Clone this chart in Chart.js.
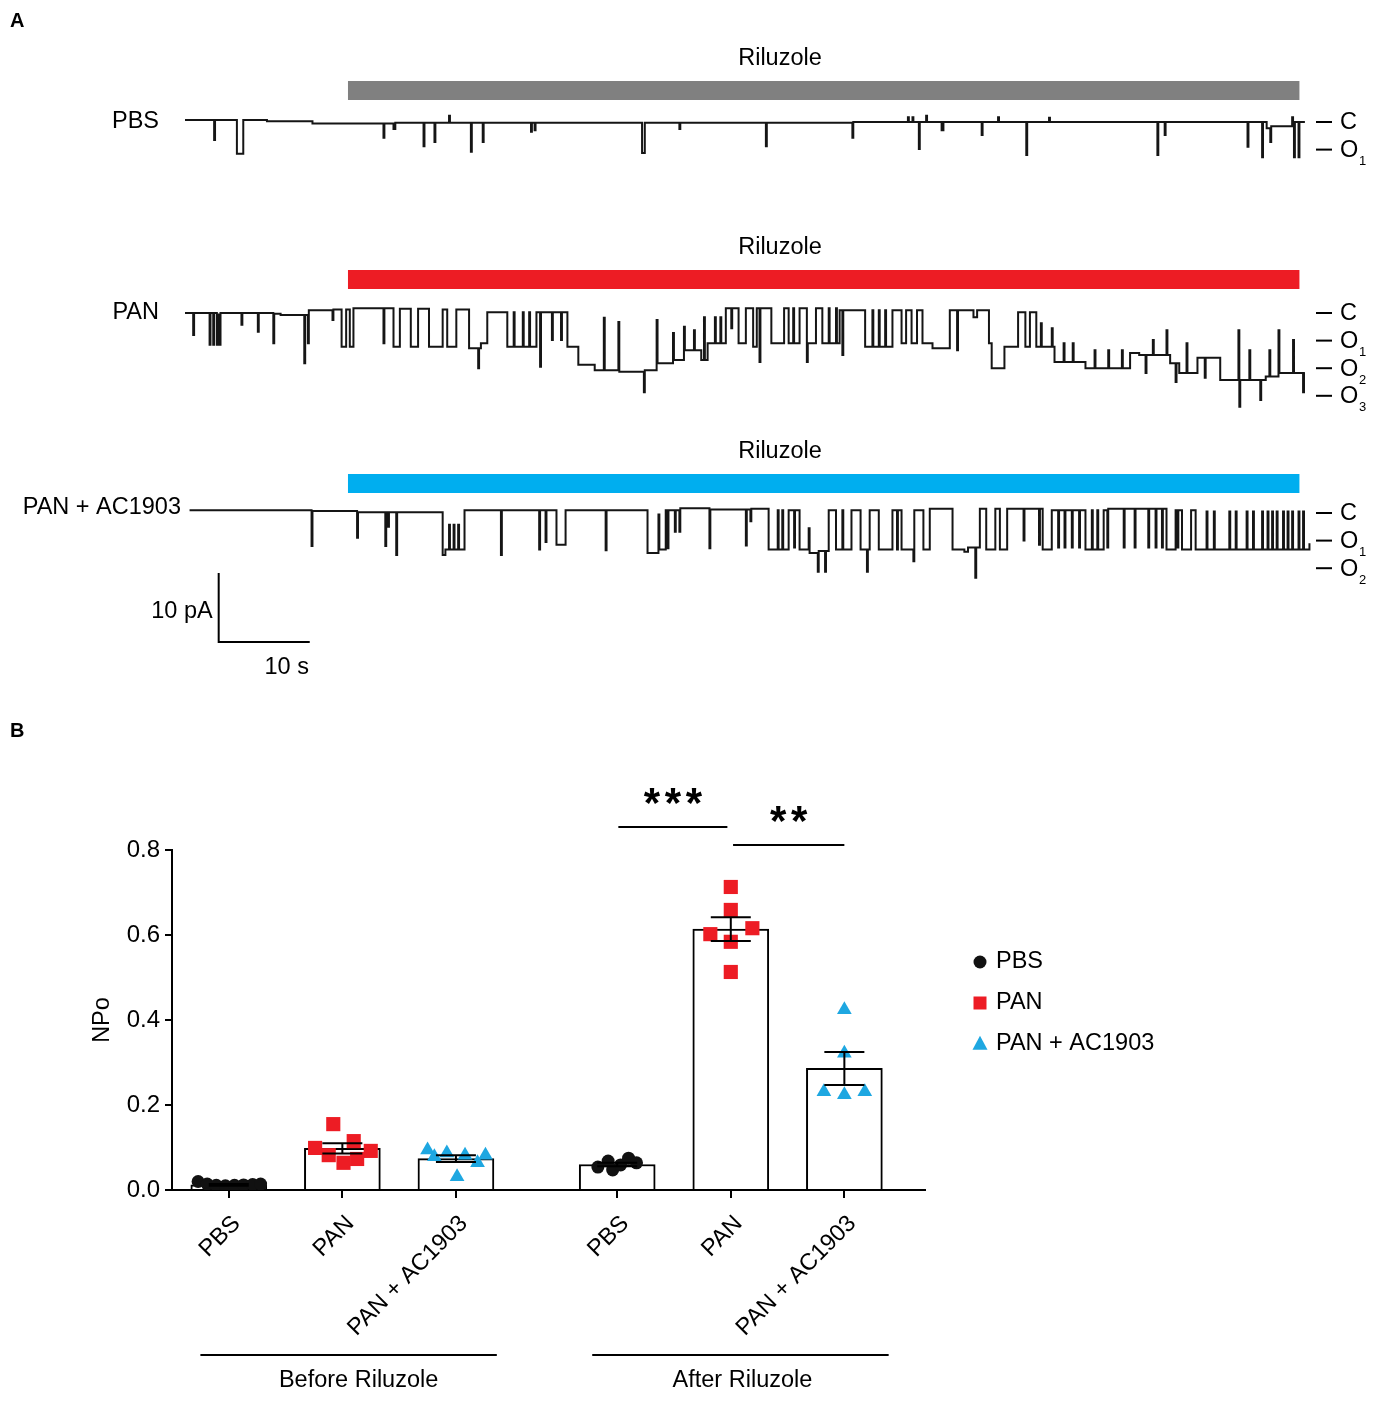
<!DOCTYPE html>
<html>
<head>
<meta charset="utf-8">
<script src="https://cdn.jsdelivr.net/npm/chart.js@4.4.1/dist/chart.umd.min.js"></script>
<style>
	body { margin: 0; background: #fff; }
	.figure { position: relative; width: 1384px; height: 1408px; }
	canvas { position: absolute; left: 0; }
	#traces { top: 0; }
	#npo { top: 700px; }
</style>
</head>
<body>
<div class="figure">
	<canvas id="traces" width="1384" height="700"></canvas>
	<canvas id="npo" width="1384" height="708"></canvas>
</div>
<script>
// ---------- panel A: single channel recordings (time in s, current in pA) ----------
// each pair is [time, level]; the level holds until the next pair
const pbsTrace = [
	[0, 0.3], [3.2, -2.6], [3.3, 0.3], [5.7, -4.6], [6.4, 0.3], [9, 0.1], [14, -0.2],
	[21.8, -2.3], [21.9, -0.2], [22.9, -1.0], [23.1, -0.1], [26.2, -3.5], [26.3, -0.1], [27.4, -2.9], [27.5, -0.1],
	[29.0, 0.9], [29.1, -0.1], [31.4, -4.3], [31.5, -0.1], [32.7, -2.9], [32.8, -0.1], [38.0, -1.4], [38.1, -0.1],
	[38.4, -1.2], [38.5, -0.1], [50.2, -4.5], [50.5, -0.1], [54.3, -1.0], [54.4, -0.1], [63.8, -3.5], [63.9, -0.1],
	[73.3, -2.3], [73.4, 0], [79.4, 0.7], [79.5, 0], [79.9, 0.7], [80.0, 0], [80.6, -3.9], [80.7, 0], [81.4, 0.9],
	[81.5, 0], [83.1, -1.2], [83.3, 0], [87.5, -1.9], [87.6, 0], [89.3, 0.7], [89.4, 0], [92.4, -4.8], [92.5, 0],
	[94.9, 0.6], [95.0, 0], [106.8, -4.8], [106.9, 0], [107.6, -1.9], [107.7, 0], [116.7, -3.6], [116.8, 0],
	[118.3, -5.1], [118.4, 0], [118.8, -0.9], [119.2, -2.9], [119.3, -0.6], [121.6, 0.7], [121.7, 0], [121.8, -5.1],
	[121.9, 0], [122.3, -5.1], [122.4, 0], [123, 0],
]

const panTrace = [
	[0, 0], [0.9, -3.2], [1.0, 0], [2.7, -4.6], [2.8, 0], [3.1, -4.6], [3.2, 0], [3.5, -4.6], [3.6, -0.2], [3.8, -4.6], [3.9, 0],
	[6.2, -1.7], [6.3, 0], [8.0, -2.7], [8.1, 0], [9.7, -4.4], [9.8, -0.1], [10.5, -0.3],
	[13.1, -7.3], [13.2, -0.3], [13.5, -4.4], [13.6, 0.4], [16.2, -1.0], [16.3, 0.5],
	[17.2, -4.9], [17.7, 0.5], [18.1, -4.9], [18.5, 0.7], [21.8, -4.4], [21.9, 0.7],
	[22.9, -4.9], [23.6, 0.6], [24.8, -4.9], [25.6, 0.6], [26.8, -4.9], [28.3, 0.5], [28.8, -4.9], [29.8, 0.5],
	[31.2, -5.1], [32.2, -8.0], [32.3, -5.1], [32.5, -4.4], [33.2, 0.1],
	[35.4, -4.9], [36.1, 0.1], [36.2, -4.9], [37.1, 0.1], [37.2, -4.9], [37.8, 0.1], [37.9, -4.9], [38.6, 0.1], [39.0, -7.8], [39.1, 0.1],
	[40.3, -3.9], [40.4, 0.1], [41.3, -3.9], [41.4, 0.1], [42.0, -4.9], [43.2, -7.5], [45.0, -8.3], [46.0, -0.7], [46.1, -8.3],
	[47.6, -1.3], [47.7, -8.5], [50.4, -11.5], [50.5, -8.3], [51.8, -1.0], [51.9, -7.3], [53.6, -2.9], [53.7, -6.8],
	[54.8, -2.0], [54.9, -5.4], [55.9, -2.5], [56.0, -5.4], [56.7, -6.8], [57.0, -0.6], [57.1, -6.8], [57.4, -4.4],
	[58.2, -0.6], [58.3, -4.4], [58.8, -0.6], [58.9, -4.4], [59.4, 0.7], [60.0, -2.2], [60.1, 0.7], [60.8, -4.4], [61.6, 0.7],
	[62.4, -4.9], [62.8, 0.7], [63.1, -7.1], [63.2, 0.7], [64.4, -4.4], [65.8, 0.7], [66.3, -4.4], [66.8, 0.7], [66.9, -4.4],
	[67.5, 0.7], [68.3, -7.1], [68.4, -4.4], [69.3, 0.7], [70.0, -4.4], [70.7, 0.7], [70.8, -4.4], [71.5, 0.7], [71.6, -4.4],
	[71.9, 0.4], [72.2, -6.1], [72.3, 0.4], [74.7, -4.9], [75.5, 0.4], [75.6, -4.9], [76.2, 0.4], [76.3, -4.9], [76.9, 0.4],
	[77.0, -4.9], [77.7, 0.4], [78.7, -4.4], [79.2, 0.4], [79.8, -4.4], [80.4, 0.4], [81.0, -4.4], [82.1, -5.1], [84.0, 0.4],
	[84.8, -5.4], [84.9, 0.4], [86.6, -0.6], [87.0, 0.4], [88.3, -4.4], [88.6, -8.0], [90.0, -4.9], [91.5, 0.1], [92.3, -4.9],
	[92.8, 0.1], [93.5, -4.9], [94.0, -1.5], [94.1, -4.9], [95.2, -2.2], [95.3, -4.9], [95.5, -7.1], [96.5, -4.4], [96.6, -7.1],
	[97.5, -4.4], [97.6, -7.1], [98.9, -8.0], [99.9, -5.4], [100.0, -8.0], [101.4, -5.4], [101.5, -8.0], [102.9, -5.4], [103.0, -8.0],
	[103.8, -5.8], [104.8, -6.1], [105.5, -8.7], [105.6, -6.1], [106.3, -3.9], [106.4, -6.1], [107.8, -2.5], [107.9, -6.1],
	[108.2, -7.3], [108.8, -10.0], [108.9, -7.3], [109.2, -8.7], [110.0, -4.4], [110.1, -8.7], [111.2, -6.5], [112.0, -9.4],
	[112.1, -6.5], [113.7, -9.7], [115.7, -2.5], [115.8, -13.6], [115.9, -9.7], [116.9, -5.4], [117.0, -9.7], [118.1, -12.6],
	[118.2, -9.7], [118.7, -9.2], [119.1, -5.4], [119.2, -9.2], [120.1, -2.5], [120.2, -8.7], [121.7, -3.9], [121.8, -8.7],
	[122.8, -11.5], [122.9, -8.7], [123, -8.7],
]

const panAcTrace = [
	[0.5, 0.4], [13.9, -4.8], [14.0, 0.3], [18.9, -3.6], [19.0, 0.1], [22.0, -4.8], [22.1, 0.1], [22.3, -2.0], [22.4, 0.1],
	[23.2, -6.1], [23.3, 0.1], [28.3, -6.1], [28.6, -5.3], [29.0, -1.7], [29.1, -5.3], [29.5, -1.7], [29.6, -5.3], [30.0, -1.7],
	[30.1, -5.3], [30.7, 0.4], [34.7, -6.1], [34.8, 0.4], [38.9, -5.3], [39.0, 0.4], [39.6, -4.2], [39.7, 0.4], [40.8, -4.6],
	[41.8, 0.4], [46.2, -5.4], [46.3, 0.4], [50.8, -5.8], [52.0, -0.2], [52.1, -5.3], [52.8, 0.4], [53.0, -5.1], [53.1, 0.4],
	[53.8, -2.7], [53.9, 0.4], [54.3, -2.7], [54.4, 0.7], [57.6, -5.1], [57.7, 0.5], [61.6, -4.7], [61.7, 0.5], [62.1, -1.2],
	[62.2, 0.6], [64.1, -5.3], [65.1, 0.4], [65.2, -5.3], [65.6, 0.4], [65.7, -5.3], [66.3, 0.4], [66.9, -5.0], [67.0, 0.4],
	[67.5, -5.3], [68.5, -2.2], [68.6, -5.8], [69.5, -8.5], [69.6, -5.5], [70.3, -8.5], [70.4, -5.5], [70.7, 0.4],
	[71.5, -5.3], [72.2, 0.4], [72.3, -5.3], [73.2, 0.4], [74.2, -5.3], [74.9, -8.5], [75.0, -5.3], [75.2, 0.4],
	[76.2, -5.3], [77.7, 0.4], [78.2, -5.3], [78.3, 0.4], [78.7, -5.3], [80.0, -7.0], [80.1, 0.4], [81.1, -5.3], [81.8, 0.6],
	[84.3, -5.3], [85.6, -5.6], [86.0, -5.0], [86.8, -9.4], [86.9, -5.0], [87.3, 0.6], [88.0, -5.3], [89.0, 0.6], [89.5, -5.3],
	[90.3, 0.6], [92.1, -4.0], [92.2, 0.6], [93.8, -4.6], [93.9, 0.6], [94.2, -5.3], [95.2, 0.4], [95.9, -5.0], [96.0, 0.4],
	[96.6, -5.0], [96.7, 0.4], [97.4, -5.0], [97.5, 0.4], [98.2, -5.0], [98.3, 0.4], [98.9, -5.3], [99.6, 0.4], [99.7, -5.3],
	[100.2, 0.4], [100.3, -5.3], [100.9, 0.4], [101.3, -5.0], [101.4, 0.6], [103.1, -5.0], [103.2, 0.6], [104.3, -5.0],
	[104.4, 0.6], [105.8, -5.0], [105.9, 0.6], [106.6, -5.0], [106.7, 0.6], [107.3, -5.0], [107.4, 0.6], [107.8, -5.3],
	[108.8, 0.4], [109.0, -5.0], [109.1, 0.4], [109.5, -5.3], [110.5, 0.4], [111.0, -5.3], [112.2, 0.2], [112.3, -5.3],
	[113.0, 0.2], [113.1, -5.3], [114.7, 0.2], [114.8, -5.3], [115.4, 0.2], [115.5, -5.3], [116.6, 0.2], [116.7, -5.3],
	[117.3, 0.2], [117.4, -5.3], [118.3, 0.2], [118.4, -5.3], [118.9, 0.2], [119.0, -5.3], [119.4, 0.2], [119.5, -5.3],
	[119.9, 0.2], [120.0, -5.3], [120.6, 0.2], [120.7, -5.3], [121.1, 0.2], [121.2, -5.3], [121.6, 0.2], [121.7, -5.3],
	[122.3, 0.2], [122.4, -5.3], [122.8, 0.2], [122.9, -5.3], [123.5, -4.4],
]

const levelNames = ['C', 'O1', 'O2', 'O3']
const levelPA = [0, -4, -8, -12]
const rilOn = 17.9 // s
const rilOff = 122.4
const scaleBarPA = 10
const scaleBarS = 10

// ---------- panel B: NPo ----------
const tickLabels = ['PBS', 'PAN', 'PAN + AC1903', 'PBS', 'PAN', 'PAN + AC1903']
const xPos = [1, 2, 3, 4.42, 5.42, 6.42]
const meanNPo = [0.012, 0.098, 0.074, 0.06, 0.614, 0.286]
const semNPo = [0.002, 0.012, 0.008, 0.004, 0.028, 0.039]

const pbsBeforeX = [0.73, 0.81, 0.89, 0.97, 1.05, 1.13, 1.21, 1.28]
const pbsBeforeY = [0.02, 0.014, 0.011, 0.01, 0.011, 0.012, 0.013, 0.014]
const panBeforeX = [1.92, 1.76, 2.1, 2.25, 1.88, 2.13, 2.01]
const panBeforeY = [0.155, 0.099, 0.115, 0.092, 0.082, 0.073, 0.064]
const acBeforeX = [2.75, 2.81, 2.92, 3.01, 3.08, 3.19, 3.26]
const acBeforeY = [0.094, 0.078, 0.087, 0.031, 0.082, 0.064, 0.082]
const pbsAfterX = [4.25, 4.34, 4.38, 4.45, 4.52, 4.59]
const pbsAfterY = [0.054, 0.068, 0.047, 0.059, 0.075, 0.064]
const panAfterX = [5.42, 5.42, 5.61, 5.24, 5.42, 5.42]
const panAfterY = [0.713, 0.659, 0.616, 0.602, 0.584, 0.513]
const acAfterX = [6.42, 6.42, 6.24, 6.42, 6.6]
const acAfterY = [0.424, 0.322, 0.231, 0.224, 0.231]

const fam = '"Liberation Sans", Arial, sans-serif'
const txt = '23.5px ' + fam
const red = '#ed1c24'
const blue = '#1ea7e1'
Chart.defaults.font.family = fam
Chart.defaults.color = '#000'

function toPoints(xs, ys) {
	return xs.map((x, i) => ({ x: x, y: ys[i] }))
}

// ---------- panel A chart ----------
const pxPerPA = 6.9
const traceHeight = 700
function rangeFor(basePx) {
	return { min: (basePx - traceHeight) / pxPerPA, max: basePx / pxPerPA }
}

let traceRows = [
	{ name: 'PBS', axis: 'y1', base: 122, nameRight: 159, nameDy: 0, barTop: 81, color: '#808080', levels: 2 },
	{ name: 'PAN', axis: 'y2', base: 313, nameRight: 159, nameDy: 0, barTop: 270, color: red, levels: 4 },
	{ name: 'PAN + AC1903', axis: 'y3', base: 513, nameRight: 181, nameDy: -5, barTop: 474, color: '#00aeef', levels: 3 },
]

const traceDecor = {
	id: 'traceDecor',
	afterDatasetsDraw(chart) {
		const ctx = chart.ctx
		const xs = chart.scales.x
		const right = chart.chartArea.right
		ctx.save()
		ctx.fillStyle = '#000'
		ctx.textBaseline = 'middle'
		ctx.font = 'bold 20px ' + fam
		ctx.fillText('A', 10, 21)

		traceRows.forEach(function (row) {
			const ys = chart.scales[row.axis]
			const base = ys.getPixelForValue(0)
			const x0 = xs.getPixelForValue(rilOn)
			const x1 = xs.getPixelForValue(rilOff)
			ctx.fillStyle = row.color
			ctx.fillRect(x0, row.barTop, x1 - x0, 19)

			ctx.fillStyle = '#000'
			ctx.font = txt
			ctx.textAlign = 'center'
			ctx.fillText('Riluzole', 780, row.barTop - 22)
			ctx.textAlign = 'right'
			ctx.fillText(row.name, row.nameRight, base + row.nameDy)

			ctx.textAlign = 'left'
			ctx.strokeStyle = '#000'
			ctx.lineWidth = 2
			for (let k = 0; k < row.levels; k++) {
				const y = ys.getPixelForValue(levelPA[k])
				ctx.beginPath()
				ctx.moveTo(right + 2, y)
				ctx.lineTo(right + 18, y)
				ctx.stroke()
				ctx.font = txt
				ctx.fillText(levelNames[k][0], right + 26, y + 1)
				if (levelNames[k].length > 1) {
					ctx.font = '13px ' + fam
					ctx.fillText(levelNames[k].slice(1), right + 45, y + 12)
				}
			}
		})

		// scale bar
		const ys3 = chart.scales.y3
		const sx0 = xs.getPixelForValue(3.7)
		const sx1 = xs.getPixelForValue(3.7 + scaleBarS)
		const sy0 = ys3.getPixelForValue(-18.7)
		const sy1 = ys3.getPixelForValue(-18.7 + scaleBarPA)
		ctx.lineWidth = 2
		ctx.beginPath()
		ctx.moveTo(sx0, sy1)
		ctx.lineTo(sx0, sy0)
		ctx.lineTo(sx1, sy0)
		ctx.stroke()
		ctx.font = txt
		ctx.textAlign = 'right'
		ctx.fillText(scaleBarPA + ' pA', sx0 - 6, (sy0 + sy1) / 2 + 4)
		ctx.textAlign = 'center'
		ctx.fillText(scaleBarS + ' s', sx0 + 68, sy0 + 25)
		ctx.restore()
	},
}

function traceSet(trace, axis) {
	return {
		data: trace.map(p => ({ x: p[0], y: p[1] })),
		yAxisID: axis,
		borderColor: '#151515',
		borderWidth: 2,
		stepped: true,
		pointRadius: 0,
		fill: false,
	}
}

let traceChart = new Chart(document.getElementById('traces'), {
	type: 'line',
	data: {
		datasets: [traceSet(pbsTrace, 'y1'), traceSet(panTrace, 'y2'), traceSet(panAcTrace, 'y3')],
	},
	options: {
		responsive: false,
		animation: false,
		devicePixelRatio: 1,
		layout: { padding: { left: 185, right: 70, top: 0, bottom: 0 } },
		plugins: { legend: { display: false }, tooltip: { enabled: false } },
		scales: {
			x: { type: 'linear', min: 0, max: 124, display: false },
			y1: Object.assign({ type: 'linear', display: false }, rangeFor(122)),
			y2: Object.assign({ type: 'linear', display: false }, rangeFor(313)),
			y3: Object.assign({ type: 'linear', display: false }, rangeFor(513)),
		},
	},
	plugins: [traceDecor],
})

// ---------- panel B chart ----------
function markerPath(ctx, style, x, y, r) {
	ctx.beginPath()
	if (style === 'circle') {
		ctx.arc(x, y, r, 0, Math.PI * 2)
	} else if (style === 'rect') {
		ctx.rect(x - r, y - r, 2 * r, 2 * r)
	} else {
		ctx.moveTo(x, y - r * 1.1)
		ctx.lineTo(x + r, y + r * 0.75)
		ctx.lineTo(x - r, y + r * 0.75)
		ctx.closePath()
	}
	ctx.fill()
}

const npoDecor = {
	id: 'npoDecor',
	afterDatasetsDraw(chart) {
		const ctx = chart.ctx
		const xs = chart.scales.x
		const ys = chart.scales.y
		ctx.save()
		ctx.strokeStyle = '#000'
		ctx.fillStyle = '#000'
		ctx.lineWidth = 2

		// mean +/- SEM
		xPos.forEach(function (xv, i) {
			const x = xs.getPixelForValue(xv)
			const yt = ys.getPixelForValue(meanNPo[i] + semNPo[i])
			const yb = ys.getPixelForValue(meanNPo[i] - semNPo[i])
			ctx.beginPath()
			ctx.moveTo(x, yt)
			ctx.lineTo(x, yb)
			ctx.moveTo(x - 20, yt)
			ctx.lineTo(x + 20, yt)
			ctx.moveTo(x - 20, yb)
			ctx.lineTo(x + 20, yb)
			ctx.stroke()
		})

		// significance
		const sig = [
			{ from: 4.43, to: 5.39, y: 0.854, text: '***' },
			{ from: 5.44, to: 6.42, y: 0.812, text: '**' },
		]
		sig.forEach(function (s) {
			const x0 = xs.getPixelForValue(s.from)
			const x1 = xs.getPixelForValue(s.to)
			const y = ys.getPixelForValue(s.y)
			ctx.beginPath()
			ctx.moveTo(x0, y)
			ctx.lineTo(x1, y)
			ctx.stroke()
			ctx.font = 'bold 42px ' + fam
			ctx.textAlign = 'center'
			ctx.textBaseline = 'alphabetic'
			const n = s.text.length
			const cx = (x0 + x1) / 2
			for (let k = 0; k < n; k++) {
				ctx.fillText('*', cx + (k - (n - 1) / 2) * 21, y - 10)
			}
		})

		// group labels
		const groups = [
			{ from: 0.75, to: 3.36, dx: 10, text: 'Before Riluzole' },
			{ from: 4.2, to: 6.81, dx: 2, text: 'After Riluzole' },
		]
		ctx.font = txt
		ctx.textBaseline = 'middle'
		groups.forEach(function (g) {
			const x0 = xs.getPixelForValue(g.from)
			const x1 = xs.getPixelForValue(g.to)
			ctx.beginPath()
			ctx.moveTo(x0, 655)
			ctx.lineTo(x1, 655)
			ctx.stroke()
			ctx.fillText(g.text, (x0 + x1) / 2 + g.dx, 681)
		})

		// legend
		const legend = [
			{ text: 'PBS', style: 'circle', color: '#111', r: 6.5 },
			{ text: 'PAN', style: 'rect', color: red, r: 6.5 },
			{ text: 'PAN + AC1903', style: 'triangle', color: blue, r: 7.5 },
		]
		ctx.textAlign = 'left'
		legend.forEach(function (l, i) {
			const y = 262 + i * 41
			ctx.fillStyle = l.color
			markerPath(ctx, l.style, 980, y, l.r)
			ctx.fillStyle = '#000'
			ctx.fillText(l.text, 996, y)
		})

		// panel letter
		ctx.font = 'bold 20px ' + fam
		ctx.fillText('B', 10, 31)
		ctx.restore()
	},
}

let npoChart = new Chart(document.getElementById('npo'), {
	type: 'bar',
	data: {
		datasets: [
			{
				type: 'bar',
				data: toPoints(xPos, meanNPo),
				backgroundColor: '#fff',
				borderColor: '#000',
				borderWidth: 2,
				barThickness: 76,
				order: 3,
			},
			{
				type: 'scatter',
				label: 'PBS',
				data: toPoints(pbsBeforeX, pbsBeforeY).concat(toPoints(pbsAfterX, pbsAfterY)),
				pointStyle: 'circle',
				pointRadius: 6.5,
				backgroundColor: '#111',
				borderWidth: 0,
				order: 1,
			},
			{
				type: 'scatter',
				label: 'PAN',
				data: toPoints(panBeforeX, panBeforeY).concat(toPoints(panAfterX, panAfterY)),
				pointStyle: 'rect',
				pointRadius: 10,
				backgroundColor: red,
				borderWidth: 0,
				order: 1,
			},
			{
				type: 'scatter',
				label: 'PAN + AC1903',
				data: toPoints(acBeforeX, acBeforeY).concat(toPoints(acAfterX, acAfterY)),
				pointStyle: 'triangle',
				pointRadius: 8.5,
				backgroundColor: blue,
				borderWidth: 0,
				order: 1,
			},
		],
	},
	options: {
		responsive: false,
		animation: false,
		devicePixelRatio: 1,
		layout: { padding: { left: 84, right: 459, top: 150, bottom: 0 } },
		plugins: { legend: { display: false }, tooltip: { enabled: false } },
		scales: {
			x: {
				type: 'linear',
				min: 0.5,
				max: 7.13,
				offset: false,
				afterBuildTicks: function (axis) {
					axis.ticks = xPos.map(v => ({ value: v }))
				},
				afterFit: function (axis) {
					axis.height = 218
				},
				grid: { drawOnChartArea: false, offset: false, color: '#000', lineWidth: 2, tickLength: 8 },
				border: { color: '#000', width: 2 },
				ticks: {
					color: '#000',
					font: { size: 23.5 },
					minRotation: 45,
					maxRotation: 45,
					autoSkip: false,
					padding: 12,
					labelOffset: 8,
					callback: function (v, i) {
						return tickLabels[i]
					},
				},
			},
			y: {
				min: 0,
				max: 0.8,
				afterFit: function (axis) {
					axis.width = 88
				},
				grid: { drawOnChartArea: false, color: '#000', lineWidth: 2, tickLength: 7 },
				border: { color: '#000', width: 2 },
				ticks: {
					stepSize: 0.2,
					color: '#000',
					font: { size: 24 },
					padding: 5,
					callback: function (v) {
						return v.toFixed(1)
					},
				},
				title: { display: true, text: 'NPo', color: '#000', font: { size: 23.5 } },
			},
		},
	},
	plugins: [npoDecor],
})
</script>
</body>
</html>
